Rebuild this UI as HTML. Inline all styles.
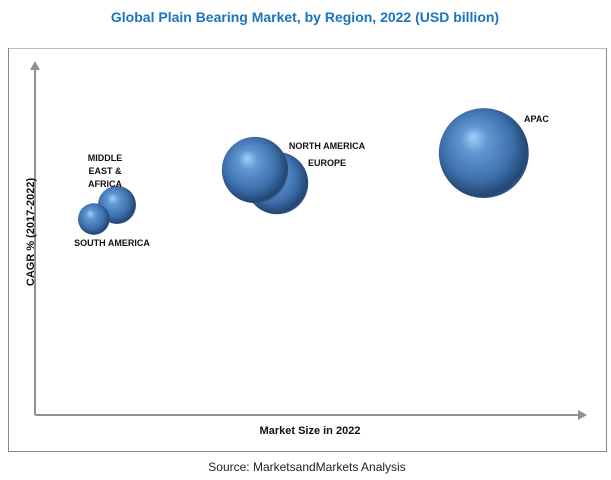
<!DOCTYPE html>
<html><head><meta charset="utf-8"><style>
body{margin:0;background:#fff;width:611px;height:480px;overflow:hidden}
svg{display:block;font-family:"Liberation Sans",sans-serif}
</style></head><body>
<svg id="chart" width="611" height="480">
<defs>
<radialGradient id="ball" cx="45%" cy="45%" r="60%" fx="38%" fy="32%">
<stop offset="0" stop-color="#9fd0f5"/>
<stop offset="0.25" stop-color="#5f97d2"/>
<stop offset="0.65" stop-color="#3f70ad"/>
<stop offset="0.9" stop-color="#234774"/>
<stop offset="1" stop-color="#3a6aa5"/>
</radialGradient>
</defs>
<text x="305" y="22" text-anchor="middle" font-size="14" font-weight="bold" fill="#1a74c2">Global Plain Bearing Market, by Region, 2022 (USD billion)</text>
<rect x="8.5" y="48.5" width="598" height="403" fill="none" stroke="#bdbdbd"/>
<line x1="8.5" y1="48" x2="8.5" y2="452" stroke="#8a8a8a"/>
<line x1="606.5" y1="48" x2="606.5" y2="452" stroke="#8a8a8a"/>
<line x1="8" y1="451.5" x2="607" y2="451.5" stroke="#8a8a8a"/>
<line x1="35" y1="415" x2="35" y2="70" stroke="#909090" stroke-width="2"/>
<polygon points="30,70 40,70 35,61" fill="#909090"/>
<line x1="35" y1="415" x2="578" y2="415" stroke="#909090" stroke-width="2"/>
<polygon points="578,410 578,420 587,415" fill="#909090"/>
<text x="310" y="434" text-anchor="middle" font-size="11" font-weight="bold" fill="#111">Market Size in 2022</text>
<text transform="translate(34,232) rotate(-90)" text-anchor="middle" font-size="11" font-weight="bold" fill="#111">CAGR % (2017-2022)</text>
<text x="307" y="471" text-anchor="middle" font-size="12" fill="#222">Source: MarketsandMarkets Analysis</text>
<g id="bubbles"></g>
<g id="labels" font-size="9" font-weight="bold" fill="#111">
<text x="524" y="122">APAC</text>
<text x="327" y="149" text-anchor="middle">NORTH AMERICA</text>
<text x="327" y="166" text-anchor="middle">EUROPE</text>
<text x="105" y="161" text-anchor="middle">MIDDLE</text>
<text x="105" y="174" text-anchor="middle">EAST &amp;</text>
<text x="105" y="187" text-anchor="middle">AFRICA</text>
<text x="112" y="246" text-anchor="middle">SOUTH AMERICA</text>
</g>
</svg>
<script>
const regions = ["Europe", "North America", "APAC", "Middle East & Africa", "South America"];
const marketSize = [4.4, 4.0, 8.16, 1.49, 1.07];
const cagr = [6.57, 6.94, 7.42, 5.95, 5.55];
const bubbleValue = [3.9, 4.4, 8.1, 1.45, 1.0];
function xScale(v){return 35 + v*55;}
function yScale(v){return 415 - v*35.3;}
function rScale(v){return 15.8*Math.sqrt(v);}
const g = document.getElementById('bubbles');
const NS = "http://www.w3.org/2000/svg";
for (let i = 0; i < regions.length; i++) {
  const c = document.createElementNS(NS, 'circle');
  c.setAttribute('cx', xScale(marketSize[i]));
  c.setAttribute('cy', yScale(cagr[i]));
  c.setAttribute('r', rScale(bubbleValue[i]));
  c.setAttribute('fill', 'url(#ball)');
  
  
  g.appendChild(c);
}
</script>
</body></html>
